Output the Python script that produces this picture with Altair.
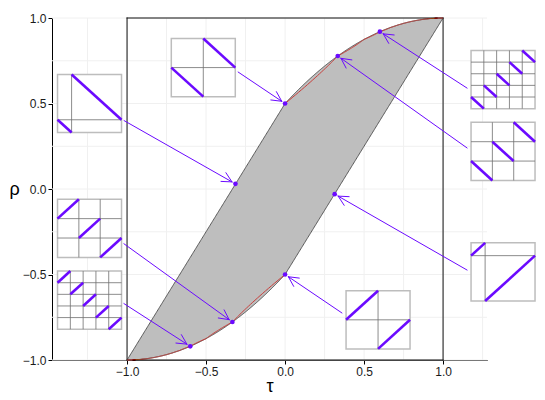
import altair as alt
import numpy as np
import pandas as pd

# ---------------- data ----------------
x_domain = [-1.475, 1.278]
y_domain = [-1.0, 1.0]
tick_vals = [-1.0, -0.5, 0.0, 0.5, 1.0]
grid_vals_x = [-1.25, -1.0, -0.75, -0.5, -0.25, 0.0, 0.25, 0.5, 0.75, 1.0, 1.25]
grid_vals_y = [-1.0, -0.75, -0.5, -0.25, 0.0, 0.25, 0.5, 0.75, 1.0]

# marked (tau, rho) points, one per inset
pt_tau = [0.0, -0.314, -1/3, -0.6, 0.6, 1/3, 0.314, 0.0]
pt_rho = [0.5, 0.03, -7/9, -0.92, 0.92, 7/9, -0.03, -0.5]

# insets: lower-left corner (data units), block sizes, kind
inset_left = [-0.72, -1.44, -1.44, -1.44, 1.177, 1.177, 1.177, 0.386]
inset_bottom = [0.54, 0.33, -0.40, -0.82, 0.47, 0.05, -0.655, -0.935]
inset_blocks = [[0.5, 0.5], [0.22, 0.78], [1/3, 1/3, 1/3], [0.2] * 5,
                [0.2] * 5, [1/3, 1/3, 1/3], [0.22, 0.78], [0.5, 0.5]]
inset_kind = ["W", "W", "M", "M", "W", "W", "M", "M"]
inset_w, inset_h = 0.405, 0.34

# arrow tails
arrow_from_tau = [-0.297, -1.019, -1.02, -1.02, 1.152, 1.152, 1.152, 0.36]
arrow_from_rho = [0.684, 0.40, -0.32, -0.67, 0.59, 0.24, -0.474, -0.725]

# ---------------- layout ----------------
W, H = 435, 342
PURPLE = "#6B0AFF"
sx = W / (x_domain[1] - x_domain[0])
sy = H / (y_domain[1] - y_domain[0])

# ---------------- derived tables ----------------
tau = np.linspace(-1, 1, 401)
upper = np.where(tau <= 0, (1 + 3 * tau) / 2, (1 + 2 * tau - tau ** 2) / 2)
lower = np.where(tau <= 0, (tau ** 2 + 2 * tau - 1) / 2, (3 * tau - 1) / 2)
region = pd.DataFrame({"tau": tau, "lo": lower, "hi": upper})
bound = pd.concat([
    pd.DataFrame({"tau": tau, "rho": upper, "g": "u", "o": np.arange(len(tau))}),
    pd.DataFrame({"tau": tau, "rho": lower, "g": "l", "o": np.arange(len(tau))}),
])

# exact boundary via ordinal sums (n-1 equal blocks + one smaller)
et, er = [], []
for n in range(3, 60):
    a = np.linspace(1 / n, 1 / (n - 1), 30)
    b = 1 - (n - 1) * a
    et.extend(1 - 2 * ((n - 1) * a ** 2 + b ** 2))
    er.extend(1 - 2 * ((n - 1) * a ** 3 + b ** 3))
et.append(1.0); er.append(1.0)
et = np.array(et); er = np.array(er)
idx = np.argsort(et)
et, er = et[idx], er[idx]
exact = pd.concat([
    pd.DataFrame({"tau": et, "rho": er, "g": "u", "o": np.arange(len(et))}),
    pd.DataFrame({"tau": -et, "rho": -er, "g": "l", "o": np.arange(len(et))}),
])

grid = pd.DataFrame(
    [dict(x=v, y=y_domain[0], x2=v, y2=y_domain[1]) for v in grid_vals_x] +
    [dict(x=x_domain[0], y=v, x2=x_domain[1], y2=v) for v in grid_vals_y])
box = pd.DataFrame([
    dict(x=-1, y=-1, x2=-1, y2=1), dict(x=1, y=-1, x2=1, y2=1),
    dict(x=-1, y=1, x2=1, y2=1), dict(x=-1, y=-1, x2=1, y2=-1)])
points = pd.DataFrame({"tau": pt_tau, "rho": pt_rho})

arrows = []
for i in range(len(pt_tau)):
    tx, ty = pt_tau[i], pt_rho[i]
    fx, fy = arrow_from_tau[i], arrow_from_rho[i]
    dx, dy = (tx - fx) * sx, (ty - fy) * sy
    L = np.hypot(dx, dy)
    ux, uy = dx / L, dy / L
    gap = 4.0
    tipx, tipy = tx - ux * gap / sx, ty - uy * gap / sy
    arrows.append(dict(x=fx, y=fy, x2=tipx, y2=tipy))
    for ang in (np.radians(27), -np.radians(27)):
        bx = -ux * np.cos(ang) + uy * np.sin(ang)
        by = -ux * np.sin(ang) - uy * np.cos(ang)
        arrows.append(dict(x=tipx, y=tipy, x2=tipx + bx * 11 / sx, y2=tipy + by * 11 / sy))
arrows = pd.DataFrame(arrows)

rects, igrid, segs = [], [], []
for i in range(len(inset_left)):
    x0, y0 = inset_left[i], inset_bottom[i]
    X = lambda u: x0 + u * inset_w
    Y = lambda v: y0 + v * inset_h
    rects.append(dict(x=X(0), y=Y(0), x2=X(1), y2=Y(1)))
    blocks = inset_blocks[i]
    cum = np.concatenate([[0], np.cumsum(blocks)])
    for c in cum[1:-1]:
        igrid.append(dict(x=X(c), y=Y(0), x2=X(c), y2=Y(1)))
        hv = c if inset_kind[i] == "W" else 1 - c
        igrid.append(dict(x=X(0), y=Y(hv), x2=X(1), y2=Y(hv)))
    for k in range(len(blocks)):
        u0, u1 = cum[k], cum[k + 1]
        if inset_kind[i] == "W":
            segs.append(dict(x=X(u0), y=Y(u1), x2=X(u1), y2=Y(u0)))
        else:
            segs.append(dict(x=X(u0), y=Y(1 - u1), x2=X(u1), y2=Y(1 - u0)))
rects = pd.DataFrame(rects); igrid = pd.DataFrame(igrid); segs = pd.DataFrame(segs)

# ---------------- chart ----------------
xs = alt.Scale(domain=x_domain, nice=False, zero=False)
ys = alt.Scale(domain=y_domain, nice=False, zero=False)
x_axis = alt.Axis(values=tick_vals, format=".1f", title="τ", grid=False)
y_axis = alt.Axis(values=tick_vals, format=".1f", title="ρ", grid=False,
                  titleAngle=0, titleX=-38, titleY=H / 2,
                  titleAlign="center", titleBaseline="middle")


def XQ(f):
    return alt.X(f, type="quantitative", scale=xs, axis=x_axis, title="τ")


def YQ(f):
    return alt.Y(f, type="quantitative", scale=ys, axis=y_axis, title="ρ")


def rule_layer(df, color, width, cap="butt"):
    return alt.Chart(df).mark_rule(color=color, strokeWidth=width, strokeCap=cap).encode(
        x=XQ("x"), y=YQ("y"), x2="x2:Q", y2="y2:Q")


grid_layer = rule_layer(grid, "#F0F0F0", 1)

area = alt.Chart(region).mark_area(color="#BEBEBE", opacity=1).encode(
    x=XQ("tau"), y=YQ("lo"), y2="hi:Q")

bound_layer = alt.Chart(bound).mark_line(color="#3a3a3a", strokeWidth=0.8).encode(
    x=XQ("tau"), y=YQ("rho"), detail="g:N", order="o:Q")

box_layer = rule_layer(box, "#111111", 1, "square")

exact_layer = alt.Chart(exact).mark_line(color="#C8403C", strokeWidth=1).encode(
    x=XQ("tau"), y=YQ("rho"), detail="g:N", order="o:Q")

pts_layer = alt.Chart(points).mark_circle(color=PURPLE, size=22, opacity=1).encode(
    x=XQ("tau"), y=YQ("rho"))

arrow_layer = rule_layer(arrows, PURPLE, 1, "round")

rect_layer = alt.Chart(rects).mark_rect(fill="white", stroke="#BDBDBD", strokeWidth=1.5).encode(
    x=XQ("x"), y=YQ("y"), x2="x2:Q", y2="y2:Q")

igrid_layer = rule_layer(igrid, "#6E6E6E", 0.8)
seg_layer = rule_layer(segs, PURPLE, 2.6)

chart = alt.layer(
    grid_layer, area, bound_layer, box_layer, exact_layer, pts_layer, arrow_layer,
    rect_layer, igrid_layer, seg_layer
).properties(
    width=W, height=H,
    autosize=alt.AutoSizeParams(type="none"),
    padding={"left": 44, "top": 10, "right": 50, "bottom": 40},
).configure_view(stroke=None).configure_axis(
    domainColor="#000000", domainWidth=1, tickColor="#000000", tickSize=4,
    labelColor="#1a1a1a", labelFont="Liberation Sans", labelFontSize=12,
    labelPadding=2, titleFont="Liberation Sans", titleFontSize=18,
    titleFontWeight="normal", titleColor="#000000",
).configure_axisX(titlePadding=0)

chart.save("out.html", embed_options={"renderer": "svg", "actions": False})
